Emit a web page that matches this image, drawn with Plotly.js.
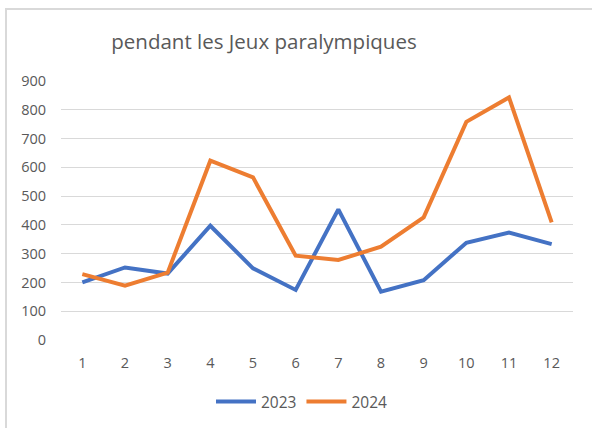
<!DOCTYPE html>
<html>
<head>
<meta charset="utf-8">
<script src="https://cdn.plot.ly/plotly-3.0.1.min.js"></script>
<style>
  html, body { margin: 0; padding: 0; background: #fff; }
  #wrap { position: relative; width: 592px; height: 428px; overflow: hidden; }
  #chart { position: absolute; left: 0; top: 0; width: 592px; height: 428px; }
  #frame { position: absolute; left: 5px; top: 8px; width: 600px; height: 440px;
           border-left: 2px solid #d9d9d9; border-top: 2px solid #d9d9d9; pointer-events: none; }
</style>
</head>
<body>
<div id="wrap">
  <div id="chart"></div>
  <div id="frame"></div>
</div>
<script>
const months = [1, 2, 3, 4, 5, 6, 7, 8, 9, 10, 11, 12];
const values2023 = [200, 252, 231, 397, 249, 174, 454, 168, 208, 338, 373, 333];
const values2024 = [229, 189, 234, 623, 565, 293, 278, 324, 426, 758, 843, 409];
const yTicks = [0, 100, 200, 300, 400, 500, 600, 700, 800, 900];
const titleText = 'pendant les Jeux paralympiques';

const font = 'Open Sans, Noto Sans, sans-serif';

const traces = [
  { x: months, y: values2023, name: '2023', type: 'scatter', mode: 'lines',
    line: { color: '#4472C4', width: 4 } },
  { x: months, y: values2024, name: '2024', type: 'scatter', mode: 'lines',
    line: { color: '#ED7D31', width: 4 } }
];

const layout = {
  width: 592, height: 428,
  margin: { l: 61, r: 19, t: 81, b: 88 },
  paper_bgcolor: '#ffffff', plot_bgcolor: '#ffffff',
  font: { family: font, color: '#595959', size: 14.5 },
  title: { text: titleText, x: 264 / 592, xref: 'container', xanchor: 'center',
           y: 1 - 42 / 428, yref: 'container', yanchor: 'middle',
           font: { family: font, size: 20.5, color: '#595959' } },
  xaxis: { range: [0.5, 12.5], tickvals: months, ticktext: months.map(String),
           showgrid: false, zeroline: false, showline: false, ticks: '',
           ticklabelstandoff: 12, fixedrange: true },
  yaxis: { range: [0, 900], tickvals: yTicks, showgrid: true, gridcolor: '#d9d9d9', gridwidth: 1,
           zeroline: false, showline: false, ticks: '', ticklabelstandoff: 14, fixedrange: true },
  showlegend: true,
  legend: { orientation: 'h', x: 302 / 592, xanchor: 'center', xref: 'container',
            y: 26 / 428, yref: 'container', yanchor: 'middle', itemwidth: 40,
            font: { family: font, size: 15.5, color: '#595959' } }
};

Plotly.newPlot('chart', traces, layout, { displayModeBar: false, staticPlot: true });
</script>
</body>
</html>
